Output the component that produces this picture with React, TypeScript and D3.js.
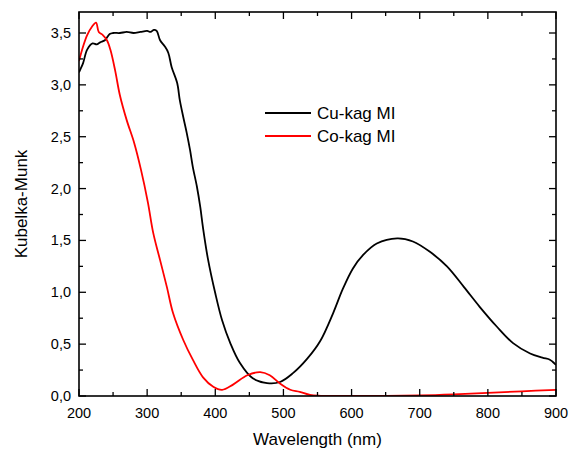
import React from "react";
import * as d3 from "d3";

const cuWave = [200,202,206,212,220,226,231,238,245,250,260,270,280,290,300,305,310,314,319,326,331,336,344,348,353,358,363,367,373,378,382,389,400,410,422,436,455,476,495,514,535,554,573,587,602,617,637,667,690,715,740,765,788,813,837,862,880,891,895,900];
const cuKM = [3.12,3.15,3.21,3.34,3.40,3.39,3.41,3.43,3.49,3.50,3.50,3.51,3.50,3.51,3.52,3.51,3.53,3.52,3.43,3.37,3.31,3.17,3.02,2.85,2.69,2.54,2.37,2.21,2.02,1.82,1.62,1.33,0.99,0.73,0.51,0.32,0.17,0.125,0.135,0.22,0.36,0.53,0.80,1.03,1.23,1.36,1.47,1.52,1.49,1.39,1.25,1.05,0.86,0.67,0.51,0.41,0.37,0.35,0.33,0.30];

const coWave = [200,206,212,219,225,229,235,241,246,253,260,270,281,291,301,309,319,329,338,353,367,382,397,410,426,447,466,480,495,510,524,539,555,600,700,750,800,850,900];
const coKM = [3.23,3.37,3.48,3.56,3.60,3.51,3.48,3.43,3.34,3.14,2.90,2.66,2.44,2.18,1.87,1.57,1.31,1.05,0.80,0.54,0.35,0.18,0.09,0.06,0.11,0.20,0.23,0.20,0.12,0.06,0.04,0.01,0.002,0,0.005,0.015,0.03,0.045,0.06];

const xTicks = [200,300,400,500,600,700,800,900];
const yTicks = [0,0.5,1.0,1.5,2.0,2.5,3.0,3.5];
const seriesNames = ["Cu-kag MI","Co-kag MI"];
const seriesColors = ["#000000","#ff0000"];

const W = 571, H = 453;
const L = 79, R = 556, T = 12, B = 396;

export default function App() {
  const x = d3.scaleLinear().domain([200, 900]).range([L, R]);
  const y = d3.scaleLinear().domain([0, 3.5]).range([B, 33]);
  const line = d3.line<[number, number]>().x(d => x(d[0])).y(d => y(d[1])).curve(d3.curveCatmullRom.alpha(0.5));
  const cu = cuWave.map((w, i) => [w, cuKM[i]] as [number, number]);
  const co = coWave.map((w, i) => [w, coKM[i]] as [number, number]);
  const xMinor = d3.range(250, 900, 100);
  const yMinor = d3.range(0.25, 3.7, 0.5);
  const font = "'Liberation Sans', Arial, sans-serif";
  const fmt = (v: number) => v.toFixed(1).replace(".", ",");
  return (
    <svg width={W} height={H} style={{ position: "absolute", left: 0, top: 0, background: "#fff" }} fontFamily={font}>
      <defs>
        <clipPath id="plot"><rect x={L} y={T} width={R - L} height={B - T} /></clipPath>
      </defs>
      <g clipPath="url(#plot)">
        <path d={line(cu) || ""} fill="none" stroke={seriesColors[0]} strokeWidth={1.8} />
        <path d={line(co) || ""} fill="none" stroke={seriesColors[1]} strokeWidth={1.8} />
      </g>
      <rect x={L} y={T} width={R - L} height={B - T} fill="none" stroke="#000" strokeWidth={1.6} />
      {xTicks.map(t => (
        <g key={"xt" + t}>
          <line x1={x(t)} x2={x(t)} y1={B} y2={B - 7} stroke="#000" strokeWidth={1.3} />
          <line x1={x(t)} x2={x(t)} y1={T} y2={T + 7} stroke="#000" strokeWidth={1.3} />
          <text x={x(t)} y={418} textAnchor="middle" fontSize={14.5} fill="#000">{t}</text>
        </g>
      ))}
      {xMinor.map(t => (
        <g key={"xm" + t}>
          <line x1={x(t)} x2={x(t)} y1={B} y2={B - 4} stroke="#000" strokeWidth={1.3} />
          <line x1={x(t)} x2={x(t)} y1={T} y2={T + 4} stroke="#000" strokeWidth={1.3} />
        </g>
      ))}
      {yTicks.map(t => (
        <g key={"yt" + t}>
          <line x1={L} x2={L + 7} y1={y(t)} y2={y(t)} stroke="#000" strokeWidth={1.3} />
          <line x1={R} x2={R - 7} y1={y(t)} y2={y(t)} stroke="#000" strokeWidth={1.3} />
          <text x={71} y={y(t) + 5} textAnchor="end" fontSize={14.5} fill="#000">{fmt(t)}</text>
        </g>
      ))}
      {yMinor.map(t => (
        <g key={"ym" + t}>
          <line x1={L} x2={L + 4} y1={y(t)} y2={y(t)} stroke="#000" strokeWidth={1.3} />
          <line x1={R} x2={R - 4} y1={y(t)} y2={y(t)} stroke="#000" strokeWidth={1.3} />
        </g>
      ))}
      <text x={(L + R) / 2} y={445} textAnchor="middle" fontSize={17} fill="#000">Wavelength (nm)</text>
      <text transform={`translate(27,${(T + B) / 2}) rotate(-90)`} textAnchor="middle" fontSize={17} fill="#000">Kubelka-Munk</text>
      {seriesNames.map((n, i) => (
        <g key={n}>
          <line x1={265} x2={311} y1={113 + i * 23} y2={113 + i * 23} stroke={seriesColors[i]} strokeWidth={1.8} />
          <text x={317} y={119 + i * 23} fontSize={17} fill="#000">{n}</text>
        </g>
      ))}
    </svg>
  );
}
